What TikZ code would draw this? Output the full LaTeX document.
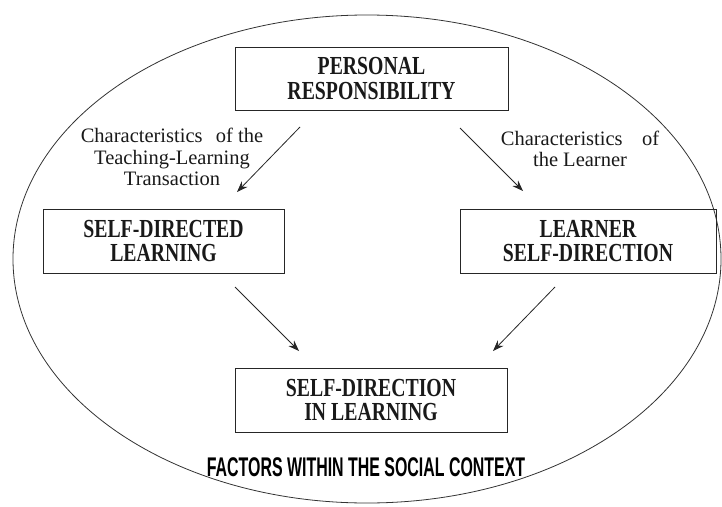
\documentclass[tikz,border=0pt]{standalone}
\usepackage{fontspec}
\setmainfont{Liberation Serif}
\newfontfamily\boxfont[FakeStretch=0.76]{Liberation Serif}
\newfontfamily\factfont[FakeStretch=0.59]{Liberation Sans}
\usetikzlibrary{arrows.meta,shapes.geometric}
\begin{document}
\begin{tikzpicture}[x=1pt,y=-1pt,
  box/.style={draw=black!85, line width=0.9pt, inner sep=0pt, align=center,
    font=\boxfont\bfseries\fontsize{26}{24.5}\selectfont, text=black!90},
  note/.style={align=center, inner sep=0pt, font=\fontsize{20.5}{21.5}\selectfont, text=black!90},
  arr/.style={line width=0.8pt, draw=black!85, -{Stealth[length=11pt,width=8pt]}}]
\useasboundingbox (0,0) rectangle (722,506);
\node[ellipse, draw=black!80, line width=0.8pt, inner sep=0pt,
  minimum width=708pt, minimum height=488pt] (ctx) at (367,259) {};
\node[box, minimum width=273pt, minimum height=63pt] (pr) at (371.5,78.5)
  {PERSONAL\\RESPONSIBILITY};
\node[box, minimum width=241pt, minimum height=64pt] (sdl) at (163.5,241)
  {SELF-DIRECTED\\LEARNING};
\node[box, minimum width=256pt, minimum height=64pt] (lsd) at (588,241)
  {LEARNER\\SELF-DIRECTION};
\node[box, minimum width=272pt, minimum height=64pt] (sdil) at (371,400)
  {SELF-DIRECTION\\IN LEARNING};
\node[note] (tl) at (172,157) {Characteristics\hspace{0.4em} of the\\Teaching-Learning\\Transaction};
\node[note] (tr) at (580,149) {Characteristics\hspace{0.7em} of\\the Learner};
\node[font=\factfont\bfseries\fontsize{27}{27}\selectfont, inner sep=0pt] (fac) at (366,467)
  {FACTORS WITHIN THE SOCIAL CONTEXT};
\coordinate (a1s) at (300,127); \coordinate (a1e) at (237,192);
\coordinate (a2s) at (460,128); \coordinate (a2e) at (523,191);
\coordinate (a3s) at (235,287); \coordinate (a3e) at (299,351);
\coordinate (a4s) at (555,287); \coordinate (a4e) at (493,351);
\draw[arr] (a1s) -- (a1e);
\draw[arr] (a2s) -- (a2e);
\draw[arr] (a3s) -- (a3e);
\draw[arr] (a4s) -- (a4e);
\end{tikzpicture}
\end{document}
